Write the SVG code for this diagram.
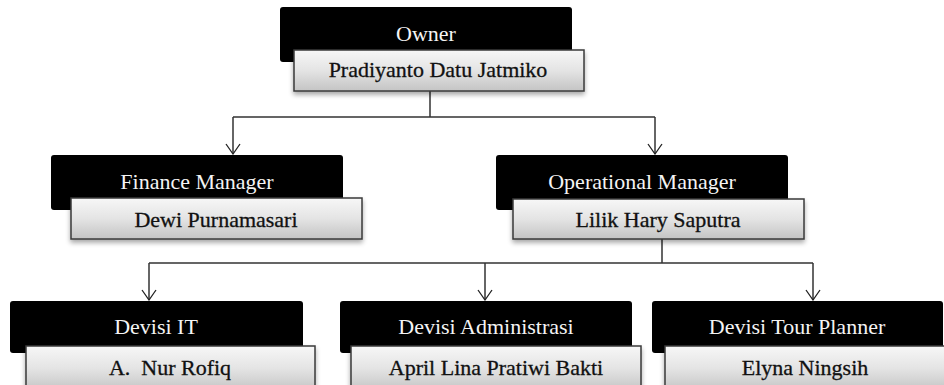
<svg xmlns="http://www.w3.org/2000/svg" width="944" height="385" viewBox="0 0 944 385">
<defs>
<linearGradient id="g" x1="0" y1="0" x2="0" y2="1">
<stop offset="0" stop-color="#f7f7f7"/>
<stop offset="0.5" stop-color="#e4e4e4"/>
<stop offset="1" stop-color="#c4c4c4"/>
</linearGradient>
<filter id="sh" x="-10%" y="-20%" width="120%" height="160%">
<feGaussianBlur in="SourceAlpha" stdDeviation="2.5"/>
<feOffset dx="0" dy="3"/>
<feComponentTransfer><feFuncA type="linear" slope="0.35"/></feComponentTransfer>
<feMerge><feMergeNode/><feMergeNode in="SourceGraphic"/></feMerge>
</filter>
<marker id="arr" viewBox="0 0 12 16" refX="11" refY="8" markerWidth="12" markerHeight="16" markerUnits="userSpaceOnUse" orient="auto">
<path d="M1,1 L11,8 L1,15" fill="none" stroke="#222" stroke-width="1.3"/>
</marker>
</defs>
<style>
.hd{fill:#000;}
.nm{fill:url(#g);stroke:#3a3a3a;stroke-width:1.5;filter:url(#sh);}
.ht{font-family:"Liberation Serif","Times New Roman",serif;font-size:22px;fill:#f4f4f4;text-anchor:middle;}
.nt{font-family:"Liberation Serif","Times New Roman",serif;font-size:22px;fill:#111;stroke:#111;stroke-width:0.3;text-anchor:middle;}
.ln{fill:none;stroke:#333;stroke-width:1.5;}
</style>
<rect width="944" height="385" fill="#fff"/>
<g id="connectors">
<path class="ln" d="M430,91 V117 M233,117 H655" />
<path class="ln" d="M233,117 V154" marker-end="url(#arr)"/>
<path class="ln" d="M655,117 V154" marker-end="url(#arr)"/>
<path class="ln" d="M662,239 V263 M149,263 H813"/>
<path class="ln" d="M149,263 V300" marker-end="url(#arr)"/>
<path class="ln" d="M485,263 V300" marker-end="url(#arr)"/>
<path class="ln" d="M813,263 V300" marker-end="url(#arr)"/>
</g>
<g id="owner">
<rect class="hd" x="280" y="7" width="292" height="55" rx="3"/>
<text class="ht" x="426" y="41">Owner</text>
<rect class="nm" x="294" y="50" width="290" height="41"/>
<text class="nt" x="438" y="77">Pradiyanto Datu Jatmiko</text>
</g>
<g id="finance">
<rect class="hd" x="51" y="155" width="292" height="55" rx="3"/>
<text class="ht" x="197" y="189">Finance Manager</text>
<rect class="nm" x="71" y="198" width="291" height="41"/>
<text class="nt" x="216" y="227">Dewi Purnamasari</text>
</g>
<g id="operational">
<rect class="hd" x="496" y="155" width="292" height="55" rx="3"/>
<text class="ht" x="642" y="189">Operational Manager</text>
<rect class="nm" x="513" y="199" width="291" height="40"/>
<text class="nt" x="658" y="227">Lilik Hary Saputra</text>
</g>
<g id="it">
<rect class="hd" x="10" y="301" width="293" height="52" rx="3"/>
<text class="ht" x="156" y="334">Devisi IT</text>
<rect class="nm" x="26" y="346" width="289" height="45"/>
<text class="nt" x="170" y="375">A.&#160; Nur Rofiq</text>
</g>
<g id="admin">
<rect class="hd" x="340" y="301" width="292" height="52" rx="3"/>
<text class="ht" x="486" y="334">Devisi Administrasi</text>
<rect class="nm" x="351" y="346" width="290" height="45"/>
<text class="nt" x="496" y="375">April Lina Pratiwi Bakti</text>
</g>
<g id="tour">
<rect class="hd" x="652" y="301" width="291" height="52" rx="3"/>
<text class="ht" x="797" y="334">Devisi Tour Planner</text>
<rect class="nm" x="665" y="346" width="290" height="45"/>
<text class="nt" x="805" y="375">Elyna Ningsih</text>
</g>
</svg>
